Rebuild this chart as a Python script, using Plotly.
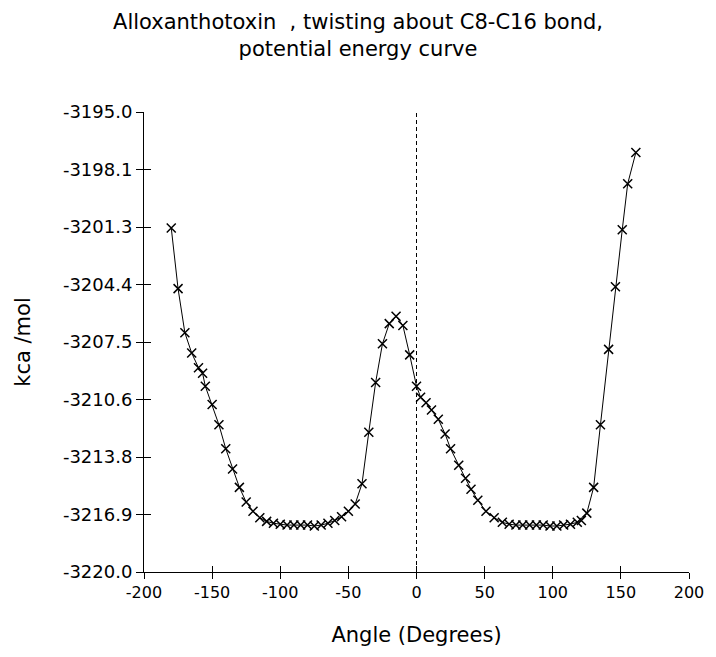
import plotly.graph_objects as go

# Data
angles = [-180, -175, -170, -165, -160, -157, -155, -150, -145, -140, -135, -130,
          -125, -120, -115, -110, -105, -100, -95, -90, -85, -80, -75, -70, -65,
          -60, -55, -50, -45, -40, -35, -30, -25, -20, -15, -10, -5, 0, 3, 7, 11,
          16, 21, 25, 31, 36, 40, 45, 51, 57, 63, 68, 73, 78, 83, 88, 93, 98, 103,
          108, 113, 118, 121, 125, 130, 135, 141, 146, 151, 155, 161]
energy = [-3201.3, -3204.6, -3207.0, -3208.1, -3208.9, -3209.2, -3209.9, -3210.9,
          -3212.0, -3213.3, -3214.4, -3215.4, -3216.2, -3216.7, -3217.05, -3217.25,
          -3217.35, -3217.4, -3217.45, -3217.45, -3217.45, -3217.45, -3217.5,
          -3217.45, -3217.35, -3217.2, -3217.0, -3216.7, -3216.3, -3215.2, -3212.4,
          -3209.7, -3207.6, -3206.5, -3206.1, -3206.6, -3208.2, -3209.9, -3210.5,
          -3210.8, -3211.2, -3211.7, -3212.5, -3213.3, -3214.2, -3214.9, -3215.5,
          -3216.1, -3216.7, -3217.05, -3217.3, -3217.4, -3217.45, -3217.45,
          -3217.45, -3217.45, -3217.45, -3217.5, -3217.5, -3217.45, -3217.4,
          -3217.3, -3217.2, -3216.8, -3215.4, -3212.0, -3207.9, -3204.5, -3201.4,
          -3198.9, -3197.2]

y_tickvals = [-3220.0, -3216.875, -3213.75, -3210.625, -3207.5, -3204.375,
              -3201.25, -3198.125, -3195.0]
y_ticktext = ["-3220.0", "-3216.9", "-3213.8", "-3210.6", "-3207.5", "-3204.4",
              "-3201.3", "-3198.1", "-3195.0"]
x_tickvals = [-200, -150, -100, -50, 0, 50, 100, 150, 200]
x_ticktext = ["-200", "-150", "-100", "-50", "0", "50", "100", "150", "200"]

title_text = "Alloxanthotoxin  , twisting about C8-C16 bond,<br>potential energy curve"
x_title = "Angle (Degrees)"
y_title = "kca /mol"

FONT = "DejaVu Sans"

fig = go.Figure()
fig.add_trace(go.Scatter(
    x=angles, y=energy, mode="lines+markers",
    line=dict(color="black", width=1),
    marker=dict(symbol="x-thin", size=9, line=dict(color="black", width=1.5)),
    showlegend=False, xaxis="x", yaxis="y",
))
# invisible trace to activate the overlay axes (for crossing ticks)
fig.add_trace(go.Scatter(x=[angles[0]], y=[energy[0]], mode="markers",
                         marker=dict(opacity=0), showlegend=False,
                         hoverinfo="skip", xaxis="x2", yaxis="y2"))

fig.add_shape(type="line", xref="x", yref="paper", x0=0, x1=0, y0=0, y1=1,
              line=dict(color="black", width=1, dash="4px,3px"))

fig.update_layout(
    width=716, height=657,
    margin=dict(l=144, r=17, t=112, b=85),
    paper_bgcolor="white", plot_bgcolor="white",
    font=dict(family=FONT, color="black"),
    title=dict(text=title_text, x=0.5, xanchor="center", xref="container",
               y=1 - 29 / 657, yanchor="middle", yref="container",
               font=dict(family=FONT, size=21, color="black")),
    xaxis=dict(range=[-200, 200], tickvals=x_tickvals, ticktext=x_ticktext,
               showline=True, linecolor="black", linewidth=1, showgrid=False,
               zeroline=False, ticks="outside", ticklen=6, tickcolor="black",
               tickfont=dict(size=16), mirror=False, ticklabeloverflow="allow",
               title=dict(text=x_title, font=dict(size=21), standoff=26)),
    yaxis=dict(range=[-3220, -3195], tickvals=y_tickvals, ticktext=y_ticktext,
               showline=True, linecolor="black", linewidth=1, showgrid=False,
               zeroline=False, ticks="outside", ticklen=7, tickcolor="black",
               tickfont=dict(size=18),
               title=dict(text=y_title, font=dict(size=21), standoff=26)),
    xaxis2=dict(range=[-200, 200], tickvals=x_tickvals, overlaying="x",
                anchor="y", side="bottom", showticklabels=False, ticks="inside",
                ticklen=6, tickcolor="black", showgrid=False, zeroline=False,
                showline=False),
    yaxis2=dict(range=[-3220, -3195], tickvals=y_tickvals, overlaying="y",
                anchor="x", side="left", showticklabels=False, ticks="inside",
                ticklen=7, tickcolor="black", showgrid=False, zeroline=False,
                showline=False),
)

fig.write_html("out.html")
